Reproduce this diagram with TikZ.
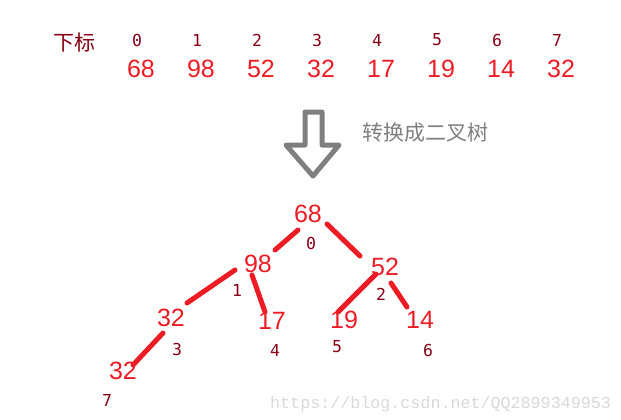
\documentclass[tikz,border=0pt]{standalone}
\usepackage{fontspec}
\setmainfont{Liberation Sans}
\newfontfamily\cjkfont{Noto Sans CJK SC}
\newfontfamily\idxfont{DejaVu Sans Mono}
\newfontfamily\markfont{Liberation Mono}
\definecolor{paintred}{HTML}{ED1C24}
\definecolor{darkred}{HTML}{880015}
\definecolor{arrowgray}{HTML}{7F7F7F}

\begin{document}
\begin{tikzpicture}[x=1pt,y=-1pt,
        value node/.style={inner sep=0pt,text=paintred,font=\fontsize{25}{25}\selectfont},
        index node/.style={inner sep=0pt,text=darkred,font=\idxfont\fontsize{16.5}{16.5}\selectfont},
        red edge/.style={draw=paintred,line width=5pt,line cap=round}]
    \useasboundingbox (0,0) rectangle (621,420);

    % array with its indices
    \node[inner sep=0pt,text=darkred,font=\cjkfont\fontsize{21}{21}\selectfont] at (74, 43) (head) {下标};
    \node[index node] at (137, 40) (i0) {0};
    \node[index node] at (197, 40) (i1) {1};
    \node[index node] at (257, 40) (i2) {2};
    \node[index node] at (317, 40) (i3) {3};
    \node[index node] at (377, 40) (i4) {4};
    \node[index node] at (437, 40) (i5) {5};
    \node[index node] at (497, 40) (i6) {6};
    \node[index node] at (557, 40) (i7) {7};
    \node[value node] at (141, 69) (v0) {68};
    \node[value node] at (201, 69) (v1) {98};
    \node[value node] at (261, 69) (v2) {52};
    \node[value node] at (321, 69) (v3) {32};
    \node[value node] at (381, 69) (v4) {17};
    \node[value node] at (441, 69) (v5) {19};
    \node[value node] at (501, 69) (v6) {14};
    \node[value node] at (561, 69) (v7) {32};

    % down arrow
    \draw[arrowgray, line width=5pt, line join=round]
        (305, 112) -- (322, 112) -- (322, 145) -- (339, 145) -- (313, 176)
        -- (286, 145) -- (305, 145) -- cycle;
    \node[inner sep=0pt,text=arrowgray,font=\cjkfont\fontsize{21}{21}\selectfont] at (425, 133) (conv) {转换成二叉树};

    % the tree
    \node[value node] at (308, 214) (t0) {68};
    \node[value node] at (258, 264) (t1) {98};
    \node[value node] at (385, 267) (t2) {52};
    \node[value node] at (171, 318) (t3) {32};
    \node[value node] at (272, 321) (t4) {17};
    \node[value node] at (344, 320) (t5) {19};
    \node[value node] at (420, 320) (t6) {14};
    \node[value node] at (123, 371) (t7) {32};
    \node[index node] at (311, 243) (l0) {0};
    \node[index node] at (237, 290) (l1) {1};
    \node[index node] at (381, 294) (l2) {2};
    \node[index node] at (177, 349) (l3) {3};
    \node[index node] at (275, 350) (l4) {4};
    \node[index node] at (337, 347) (l5) {5};
    \node[index node] at (428, 350) (l6) {6};
    \node[index node] at (107, 400) (l7) {7};

    \path[red edge]
        ([shift={(-10,16)}]t0.center) edge ([shift={(17,-14)}]t1.center)
        ([shift={(19,10)}]t0.center) edge ([shift={(-25,-11)}]t2.center)
        ([shift={(-23,6)}]t1.center) edge ([shift={(16,-15)}]t3.center)
        ([shift={(-6,11)}]t1.center) edge ([shift={(-7,-9)}]t4.center)
        ([shift={(-9,7)}]t2.center) edge ([shift={(-6,-8)}]t5.center)
        ([shift={(6,16)}]t2.center) edge ([shift={(-13,-13)}]t6.center)
        ([shift={(-8,15)}]t3.center) edge ([shift={(10,-6)}]t7.center)
        ;

    \node[anchor=base west,inner sep=0pt,text=black!15,font=\markfont\fontsize{16.7}{16.7}\selectfont] at (270, 408) (mark) {https://blog.csdn.net/QQ2899349953};
\end{tikzpicture}
\end{document}
